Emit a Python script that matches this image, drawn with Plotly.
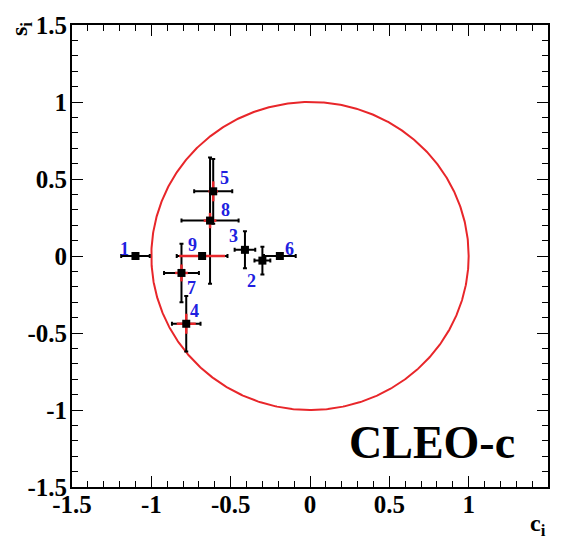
import numpy as np
import plotly.graph_objects as go

# Bin labels and measured (c_i, s_i) with total and inner uncertainties
bins = ["1", "2", "3", "4", "5", "6", "7", "8", "9"]
ci = [-1.10, -0.30, -0.41, -0.78, -0.61, -0.19, -0.81, -0.63, -0.68]
si = [0.00, -0.03, 0.04, -0.44, 0.42, 0.00, -0.11, 0.23, 0.00]
ci_err = [0.09, 0.05, 0.065, 0.09, 0.12, 0.10, 0.11, 0.18, 0.16]
si_err = [0.0, 0.09, 0.12, 0.18, 0.21, 0.0, 0.19, 0.41, 0.0]
ci_err_in = [0.0, 0.0, 0.0, 0.06, 0.03, 0.0, 0.04, 0.04, 0.145]
si_err_in = [0.0, 0.0, 0.0, 0.065, 0.065, 0.0, 0.055, 0.05, 0.0]

# Offsets of the bin numbers from their points (data units)
label_dx = [-0.07, -0.07, -0.07, 0.05, 0.07, 0.06, 0.06, 0.10, -0.06]
label_dy = [0.045, -0.13, 0.09, 0.08, 0.085, 0.045, -0.10, 0.07, 0.07]

unit_radius = 1.0
tick_vals = [-1.5, -1, -0.5, 0, 0.5, 1, 1.5]
tick_text = ["-1.5", "-1", "-0.5", "0", "0.5", "1", "1.5"]

serif = "Liberation Serif"

fig = go.Figure()

# Physical boundary c^2 + s^2 = 1
theta = np.linspace(0, 2 * np.pi, 721)
fig.add_trace(go.Scatter(
    x=unit_radius * np.cos(theta), y=unit_radius * np.sin(theta),
    mode="lines", line=dict(color="#e8262a", width=2),
    hoverinfo="skip", showlegend=False))

# Total uncertainties (black)
fig.add_trace(go.Scatter(
    x=ci, y=si, mode="markers", marker=dict(size=1, color="rgba(0,0,0,0)"),
    error_x=dict(type="data", array=ci_err, color="black", thickness=2, width=2),
    error_y=dict(type="data", array=si_err, color="black", thickness=2, width=2),
    showlegend=False))

# Inner uncertainties (red)
fig.add_trace(go.Scatter(
    x=ci, y=si, mode="markers", marker=dict(size=1, color="rgba(0,0,0,0)"),
    error_x=dict(type="data", array=ci_err_in, color="#e8262a", thickness=2.5, width=0),
    error_y=dict(type="data", array=si_err_in, color="#e8262a", thickness=2.5, width=0),
    showlegend=False))

# Central values
fig.add_trace(go.Scatter(
    x=ci, y=si, mode="markers",
    marker=dict(symbol="square", size=8, color="black"),
    showlegend=False))

for b, x, y, dx, dy in zip(bins, ci, si, label_dx, label_dy):
    fig.add_annotation(x=x + dx, y=y + dy, text=b, showarrow=False,
                       font=dict(family=serif, size=18, color="#2020e0", weight="bold"))

fig.add_annotation(x=0.77, y=-1.21, text="CLEO-c", showarrow=False,
                   font=dict(family=serif, size=46, color="black", weight="bold"))

fig.add_annotation(xref="paper", yref="paper", x=1.0, y=-0.045, text="c<sub>i</sub>",
                   showarrow=False, xanchor="right", yanchor="top",
                   font=dict(family=serif, size=24, color="black", weight="bold"))
fig.add_annotation(xref="paper", yref="paper", x=-0.07, y=1.01, text="s<sub>i</sub>",
                   showarrow=False, xanchor="right", yanchor="top", textangle=-90,
                   font=dict(family=serif, size=24, color="black", weight="bold"))

axis_common = dict(
    tickvals=tick_vals, ticktext=tick_text, ticks="inside", ticklen=11,
    tickwidth=1, tickcolor="black", mirror="allticks", showline=True,
    linecolor="black", linewidth=2, showgrid=False, zeroline=False,
    tickfont=dict(family=serif, size=25, color="black", weight="bold"),
    minor=dict(dtick=0.1, ticks="inside", ticklen=6, tickcolor="black", tickwidth=1),
)

fig.update_xaxes(range=[-1.5, 1.5], ticklabelstandoff=-6, **axis_common)
fig.update_yaxes(range=[-1.5, 1.5], ticklabelstandoff=-2, **axis_common)

fig.update_layout(
    width=562, height=546,
    margin=dict(l=72, r=14, t=14, b=59),
    plot_bgcolor="white", paper_bgcolor="white",
)

fig.write_html("out.html")
